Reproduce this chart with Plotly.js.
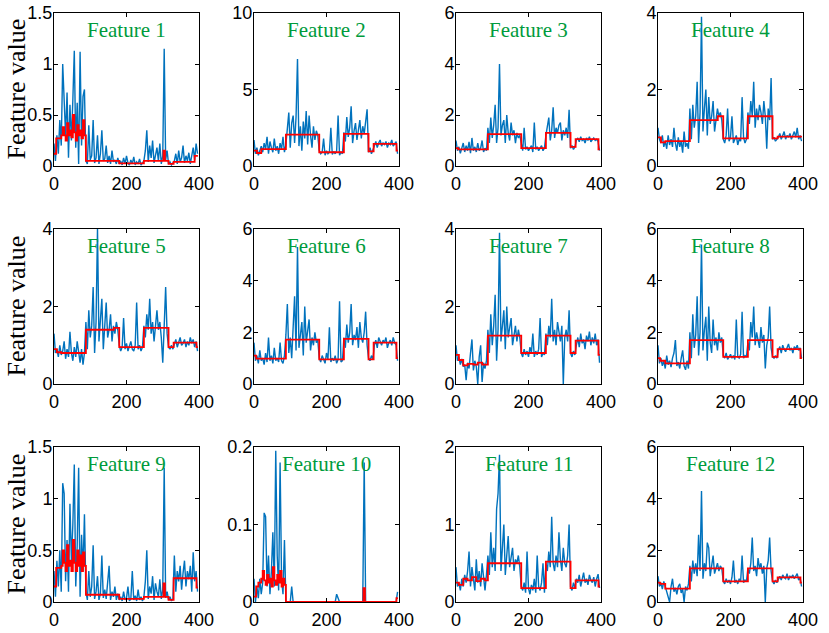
<!DOCTYPE html>
<html><head><meta charset="utf-8">
<script src="https://cdn.plot.ly/plotly-3.0.1.min.js"></script>
<style>html,body{margin:0;padding:0;background:#fff;} #chart{width:829px;height:633px;}</style>
</head><body><div id="chart"></div>
<script>
// sample spacing of the recorded signal (one value every 4 samples)
const sampleStep = 4;

// ---- blue: feature values ----
const f1Blue = [0.22,0.05,0.3,0.12,0.45,0.2,1.0,0.7,0.3,0.72,0.08,0.6,0.25,0.65,1.13,0.18,0.62,0.02,1.12,0.2,0.68,0.75,
 0.05,0.02,0.4,0.06,0.1,0.45,0.03,0.08,0.3,0.02,0.12,0.35,0.05,0.07,0.2,0.03,0.1,0.02,0.15,0.04,0.06,0.02,0.08,
 0.02,0.05,0.01,0.08,0.02,0.1,0.03,0.01,0.06,0.02,0.09,0.01,0.04,0.02,0.07,0.01,0.03,
 0.05,0.15,0.35,0.04,0.2,0.08,0.25,0.03,0.12,0.18,0.05,0.22,0.02,0.1,1.15,0.06,0.15,
 0.02,0.04,0.01,0.03,
 0.05,0.12,0.02,0.15,0.04,0.08,0.2,0.03,0.1,0.05,0.13,0.02,0.09,0.18,0.06,0.22,
 0.12];
const f2Blue = [1.7,0.8,1.2,0.7,1.0,1.3,0.9,1.5,1.1,1.9,0.8,1.6,1.2,0.9,1.8,1.0,1.3,0.8,1.5,1.1,1.9,0.9,
 1.4,2.5,3.5,1.2,2.8,3.3,1.5,3.2,7.0,1.3,2.6,1.0,2.9,1.8,3.6,1.4,3.3,2.0,1.2,2.6,1.7,2.3,2.0,
 1.0,0.8,0.9,1.8,0.7,1.0,0.8,0.9,2.5,0.75,0.95,0.8,1.0,3.3,0.7,0.9,0.8,
 2.2,1.6,3.2,1.9,2.5,3.9,1.5,2.3,2.8,1.7,2.4,3.0,1.8,2.6,2.1,2.9,3.7,
 0.9,1.2,0.8,1.0,
 1.3,1.6,1.2,1.5,1.7,1.3,1.5,1.4,1.6,1.2,1.5,1.4,1.7,1.3,1.5,1.6,
 0.8];
const f3Blue = [1.0,0.6,0.75,0.5,0.7,0.9,0.55,0.8,0.6,0.95,0.5,1.1,0.6,0.75,0.55,0.9,0.6,0.7,1.0,0.55,0.7,0.6,
 1.5,0.9,1.9,1.1,1.6,2.4,0.9,1.5,4.0,1.2,1.6,1.8,0.9,2.0,1.3,1.0,1.7,1.2,1.4,0.9,1.3,1.1,1.2,
 0.8,0.6,1.5,0.65,0.75,0.6,0.7,0.8,0.55,1.7,0.65,0.75,0.6,0.7,0.8,0.6,0.7,
 1.2,1.5,1.9,1.0,1.4,2.3,1.1,1.5,1.3,1.6,1.7,1.0,1.4,1.2,1.5,1.1,2.2,
 0.7,0.8,0.65,0.75,
 1.0,1.1,0.95,1.15,1.0,1.05,0.9,1.1,1.0,1.15,0.95,1.05,1.1,1.0,1.05,0.95,
 0.6];
const f4Blue = [1.0,0.7,0.6,0.8,0.5,0.65,0.45,0.8,0.55,0.7,0.5,1.0,0.6,0.4,0.75,0.5,0.65,0.35,0.9,0.5,0.6,0.45,
 1.5,0.7,1.6,1.0,1.3,2.2,0.6,1.4,3.9,0.9,1.5,2.0,0.8,1.8,1.1,1.3,1.7,0.9,1.2,1.5,1.3,1.4,1.2,
 0.7,0.6,0.8,1.5,0.65,0.75,1.3,0.6,0.7,0.8,0.55,0.7,0.65,1.8,0.75,0.6,0.7,
 1.4,1.1,1.7,1.3,2.2,1.0,1.5,1.2,1.6,1.4,1.1,1.7,1.3,0.45,1.5,1.2,2.3,
 0.7,0.75,0.65,0.7,
 0.75,0.85,0.7,0.8,0.9,0.7,0.8,0.75,0.85,0.7,0.8,0.9,0.75,1.0,0.7,0.8,
 0.65];
const f5Blue = [1.3,0.8,0.9,0.7,1.0,0.75,0.85,1.1,0.65,0.9,0.7,1.35,0.8,0.6,0.95,0.7,1.1,0.75,0.55,0.9,0.5,0.8,
 1.6,0.9,1.9,1.2,1.5,2.5,0.8,1.6,4.0,1.1,1.7,2.2,0.9,1.5,2.1,1.2,1.4,1.8,1.1,1.5,1.3,1.6,1.4,
 1.0,0.85,0.95,1.7,0.9,1.05,0.85,0.95,1.1,0.9,0.85,1.0,2.1,0.9,1.0,0.85,0.95,
 1.5,1.2,1.8,1.4,2.2,1.3,1.6,1.1,1.5,1.9,1.4,1.6,1.2,0.55,1.5,2.5,1.3,
 0.95,0.9,1.0,0.9,
 1.0,1.15,0.95,1.1,1.2,1.0,1.05,1.15,0.95,1.1,1.0,1.2,1.05,1.15,0.95,1.1,
 0.85];
const f6Blue = [1.6,0.9,1.1,0.8,1.3,0.9,1.0,0.75,1.2,0.85,1.8,0.9,1.1,0.8,1.4,0.9,1.0,0.85,1.6,0.9,0.8,1.1,
 1.9,3.1,1.2,1.8,1.0,2.2,3.4,1.3,5.3,1.4,2.0,2.4,1.1,3.0,1.6,2.1,2.5,1.3,1.8,1.5,2.0,1.6,1.7,
 1.0,0.85,1.1,0.9,0.8,1.2,0.95,2.2,0.85,1.0,0.9,1.1,0.8,0.95,3.2,0.85,0.9,
 1.8,1.4,2.3,1.6,2.0,3.1,1.5,1.9,1.7,2.2,1.4,2.4,1.8,1.6,2.0,2.8,1.5,
 1.0,0.9,1.1,0.95,
 1.5,1.7,1.4,1.8,1.6,1.5,1.7,1.6,1.8,1.4,1.6,1.7,1.5,1.8,1.6,1.5,
 0.9];
const f7Blue = [1.0,0.6,0.7,0.5,0.65,0.45,0.5,0.1,0.55,0.4,0.8,1.15,0.35,0.6,0.45,0.0,0.7,1.0,0.05,0.55,0.4,0.6,
 1.4,0.8,1.8,1.0,1.5,2.3,0.6,1.4,3.9,1.1,1.5,1.9,0.9,2.0,1.2,1.4,1.7,1.0,1.3,1.5,1.1,1.4,1.2,
 0.8,0.7,0.9,0.75,0.85,0.7,0.95,0.8,1.3,0.7,0.85,0.75,0.9,1.7,0.7,0.8,0.75,
 1.3,1.0,1.5,1.2,2.2,1.1,1.4,1.0,1.6,1.3,1.1,1.5,0.0,1.2,1.4,1.1,1.9,
 0.8,0.7,0.85,0.75,
 1.0,1.2,0.95,1.3,1.05,1.15,0.9,1.25,1.1,1.35,1.0,1.2,1.05,1.3,1.0,1.15,
 0.55];
const f8Blue = [1.5,0.8,1.0,0.7,0.9,0.6,1.1,0.75,0.9,0.65,1.0,1.2,1.7,0.7,0.85,0.6,1.0,1.3,0.7,0.55,0.9,0.6,
 2.0,1.0,2.7,1.4,1.9,3.4,1.1,2.0,5.4,1.3,2.1,2.6,0.9,3.0,1.6,1.2,2.5,1.5,1.8,1.3,2.0,1.6,1.8,
 1.1,1.0,1.2,0.95,1.05,1.15,1.0,1.1,0.95,2.5,1.05,1.0,1.15,2.8,1.0,1.1,1.05,
 1.6,1.3,2.4,1.8,3.0,1.5,2.0,1.7,1.4,2.2,1.6,1.9,0.6,1.5,1.8,3.0,1.4,
 1.05,1.0,1.1,1.0,
 1.3,1.45,1.2,1.5,1.35,1.25,1.4,1.55,1.3,1.4,1.2,1.45,1.35,1.5,1.3,1.4,
 1.0];
const f9Blue = [0.3,0.05,0.4,0.15,0.5,0.1,1.15,1.05,0.2,0.6,0.1,0.95,0.4,0.75,1.33,0.15,0.55,1.3,0.05,0.65,0.3,0.85,
 0.1,0.02,0.3,0.05,0.15,0.55,0.03,0.1,0.25,0.02,0.08,0.45,0.04,0.12,0.03,0.2,0.35,0.02,0.1,0.05,0.15,0.02,0.08,
 0.02,0.05,0.01,0.1,0.02,0.04,0.15,0.01,0.03,0.3,0.02,0.06,0.01,0.12,0.02,0.05,0.01,
 0.05,0.2,0.5,0.03,0.15,0.08,0.25,0.02,0.18,0.1,0.05,0.22,0.03,0.12,1.3,0.04,0.1,
 0.02,0.05,0.01,0.03,
 0.45,0.1,0.3,0.2,0.35,0.12,0.28,0.4,0.15,0.3,0.22,0.35,0.1,0.48,0.2,0.3,
 0.1];
const f10Blue = [0.03,0.0,0.02,0.005,0.03,0.01,0.025,0.115,0.11,0.02,0.06,0.01,0.04,0.09,0.02,0.195,0.06,0.015,0.18,0.03,0.01,0.08,
 0,0,0,0,0.02,0,0,0,0,0,0,0,0,0,0,0,0,0,0,0,0,0,0,
 0,0,0,0,0,0,0,0,0,0,0,0,0.01,0.005,0,0,0,
 0,0,0,0,0,0,0,0,0,0,0,0,0,0,0.18,0,0,
 0,0,0,0,
 0,0,0,0,0,0,0,0,0,0,0,0,0,0,0,0,
 0.013];
const f11Blue = [0.45,0.2,0.25,0.15,0.3,0.2,0.35,0.25,0.4,0.65,0.2,0.45,0.3,0.15,0.55,0.25,0.4,0.2,0.5,0.3,0.15,0.35,
 0.6,0.35,0.9,0.45,0.7,0.4,1.2,1.4,1.9,0.4,0.65,1.0,0.35,0.55,0.85,0.45,0.6,0.7,0.4,0.55,0.5,0.6,0.45,
 0.2,0.15,0.25,0.12,0.65,0.18,0.1,0.22,0.15,0.3,0.12,0.6,0.2,0.15,0.25,0.5,0.12,
 0.5,0.4,0.65,0.45,1.1,0.5,0.4,0.6,0.45,0.9,0.55,0.4,0.7,0.5,0.45,0.6,1.0,
 0.2,0.15,0.25,0.18,
 0.3,0.25,0.35,0.2,0.3,0.38,0.25,0.3,0.22,0.35,0.28,0.25,0.32,0.2,0.3,0.36,
 0.18];
const f12Blue = [1.0,0.6,0.75,0.5,0.8,0.6,0.45,0.3,0.0,0.6,0.9,0.4,0.55,0.3,0.6,0.7,0.35,0.5,0.0,0.6,0.45,0.7,
 1.4,0.8,1.6,1.1,1.5,1.0,2.6,1.2,4.3,0.9,1.5,1.2,2.3,2.1,1.0,1.4,1.8,1.1,1.3,1.5,1.2,1.4,1.3,
 0.8,0.7,0.9,0.75,0.85,0.7,0.95,1.6,0.75,0.85,0.7,0.9,0.8,1.8,0.75,0.85,0.8,
 1.3,1.1,1.5,2.5,1.2,1.4,1.0,1.7,1.3,1.5,1.1,1.4,0.0,1.3,1.6,2.5,1.2,
 0.8,0.7,0.85,0.75,
 0.9,1.0,0.85,1.05,0.95,0.9,1.1,0.85,1.0,0.95,1.05,0.9,1.0,1.1,0.85,0.95,
 0.6];

// ---- red: segment means (step change points and levels) ----
const f1RedX = [0,6,20,24,28,32,36,40,44,48,52,56,60,64,68,72,76,80,84,88,180,248,302,306,316,330,388,397];
const f1RedY = [0.12,0.27,0.3,0.38,0.3,0.25,0.42,0.3,0.35,0.28,0.5,0.33,0.25,0.4,0.3,0.35,0.27,0.45,0.3,0.05,0.025,0.05,0.15,0.05,0.02,0.04,0.1,0.1];
const f2RedX = [0,8,20,88,180,248,316,330,393,397];
const f2RedY = [1.0,0.85,1.1,2.05,0.9,2.1,0.95,1.45,1.0,1.0];
const f3RedX = [0,6,88,180,248,316,330,393,397];
const f3RedY = [0.7,0.65,1.25,0.7,1.3,0.75,1.05,0.65,0.65];
const f4RedX = [0,8,20,88,165,180,248,316,330,393,397];
const f4RedY = [0.75,0.62,0.65,1.2,1.3,0.72,1.3,0.72,0.77,0.77,0.77];
const f5RedX = [0,8,20,88,165,180,248,316,330,393,397];
const f5RedY = [0.9,0.82,0.8,1.4,1.45,0.95,1.45,0.95,1.07,0.95,0.95];
const f6RedX = [0,6,88,180,248,316,330,393,397];
const f6RedY = [1.1,0.98,1.72,0.95,1.75,0.95,1.6,1.0,1.0];
const f7RedX = [0,8,20,32,48,60,72,88,180,248,316,330,393,397];
const f7RedY = [0.75,0.62,0.48,0.52,0.5,0.55,0.5,1.25,0.8,1.25,0.8,1.12,0.75,0.75];
const f8RedX = [0,6,20,88,180,248,316,330,393,397];
const f8RedY = [1.0,0.9,0.8,1.7,1.05,1.7,1.05,1.35,1.0,1.0];
const f9RedX = [0,6,20,24,28,32,36,40,44,48,52,56,60,64,68,72,76,80,84,88,180,248,302,306,316,330,393,397];
const f9RedY = [0.15,0.33,0.35,0.5,0.38,0.3,0.55,0.35,0.4,0.3,0.6,0.38,0.3,0.5,0.35,0.45,0.3,0.48,0.35,0.07,0.03,0.05,0.18,0.05,0.02,0.23,0.14,0.14];
const f10RedX = [0,6,12,20,24,28,32,36,40,44,48,52,56,60,64,68,72,76,80,84,88,302,306,393,397];
const f10RedY = [0.007,0.02,0.025,0.03,0.04,0.028,0.022,0.035,0.025,0.03,0.02,0.045,0.028,0.022,0.035,0.025,0.04,0.02,0.03,0.022,0,0.018,0,0.005,0.005];
const f11RedX = [0,8,20,32,44,56,68,80,88,180,248,316,330,393,397];
const f11RedY = [0.25,0.22,0.3,0.28,0.32,0.27,0.3,0.28,0.5,0.18,0.52,0.18,0.28,0.2,0.2];
const f12RedX = [0,6,20,88,180,248,316,330,393,397];
const f12RedY = [0.75,0.7,0.52,1.3,0.8,1.3,0.8,0.95,0.75,0.75];

// ---- labels and axis ticks ----
const panelTitles = ["Feature 1","Feature 2","Feature 3","Feature 4","Feature 5","Feature 6",
  "Feature 7","Feature 8","Feature 9","Feature 10","Feature 11","Feature 12"];
const yLabel = "Feature value";
const xTickVals = [0,200,400];
const yMaxes = [1.5,10,6,4,4,6,4,6,1.5,0.2,2,6];
const yTickVals = [[0,0.5,1,1.5],[0,5,10],[0,2,4,6],[0,2,4],[0,2,4],[0,2,4,6],[0,2,4],[0,2,4,6],
  [0,0.5,1,1.5],[0,0.1,0.2],[0,1,2],[0,2,4,6]];

const blues = [f1Blue,f2Blue,f3Blue,f4Blue,f5Blue,f6Blue,f7Blue,f8Blue,f9Blue,f10Blue,f11Blue,f12Blue];
const redXs = [f1RedX,f2RedX,f3RedX,f4RedX,f5RedX,f6RedX,f7RedX,f8RedX,f9RedX,f10RedX,f11RedX,f12RedX];
const redYs = [f1RedY,f2RedY,f3RedY,f4RedY,f5RedY,f6RedY,f7RedY,f8RedY,f9RedY,f10RedY,f11RedY,f12RedY];

// ---- layout geometry (pixels) ----
const W = 829, H = 633;
const colLeft = [54, 254, 456, 658], colW = 145;
const rowTop = [13, 229, 447], rowBottom = [166, 384, 602];
const tickFont = {family: "Liberation Sans, Arial, sans-serif", size: 18, color: "#000"};
const serif = "Liberation Serif, Times New Roman, serif";
const green = "rgb(0,155,60)";

const traces = [];
const layout = {
  width: W, height: H, margin: {l:0,r:0,t:0,b:0},
  paper_bgcolor: "#fff", plot_bgcolor: "#fff", showlegend: false,
  annotations: []
};

for (let k = 0; k < 12; k++) {
  const r = Math.floor(k / 4), c = k % 4;
  const sfx = k === 0 ? "" : String(k + 1);
  const xa = "x" + sfx, ya = "y" + sfx;
  const xs = blues[k].map((_, i) => i * sampleStep);
  traces.push({x: xs, y: blues[k], xaxis: xa, yaxis: ya, type: "scatter", mode: "lines",
    line: {color: "#0072BD", width: 1.4}, hoverinfo: "skip"});
  traces.push({x: redXs[k], y: redYs[k], xaxis: xa, yaxis: ya, type: "scatter", mode: "lines",
    line: {color: "#FF0000", width: 1.8, shape: "hv"}, hoverinfo: "skip"});

  const common = {showgrid: false, zeroline: false, showline: true, linecolor: "#000", linewidth: 1,
    mirror: "ticks", ticks: "inside", ticklen: 4, tickcolor: "#000", tickfont: tickFont, fixedrange: true};
  layout["xaxis" + sfx] = Object.assign({}, common, {
    domain: [colLeft[c] / W, (colLeft[c] + colW) / W], anchor: ya,
    range: [0, 400], tickmode: "array", tickvals: xTickVals, ticklabelstandoff: 1});
  layout["yaxis" + sfx] = Object.assign({}, common, {
    domain: [1 - rowBottom[r] / H, 1 - rowTop[r] / H], anchor: xa,
    range: [0, yMaxes[k]], tickmode: "array", tickvals: yTickVals[k], ticklabelstandoff: -3});

  layout.annotations.push({
    xref: "paper", yref: "paper",
    x: (colLeft[c] + colW / 2) / W, y: 1 - (rowTop[r] + 17) / H,
    xanchor: "center", yanchor: "middle", showarrow: false,
    text: panelTitles[k], font: {family: serif, size: 21, color: green}
  });
}
for (let r = 0; r < 3; r++) {
  layout.annotations.push({
    xref: "paper", yref: "paper",
    x: 16 / W, y: 1 - ((rowTop[r] + rowBottom[r]) / 2) / H,
    xanchor: "center", yanchor: "middle", showarrow: false, textangle: -90,
    text: yLabel, font: {family: serif, size: 26, color: "#000"}
  });
}

Plotly.newPlot("chart", traces, layout, {displayModeBar: false, staticPlot: true});
</script>
</body></html>
